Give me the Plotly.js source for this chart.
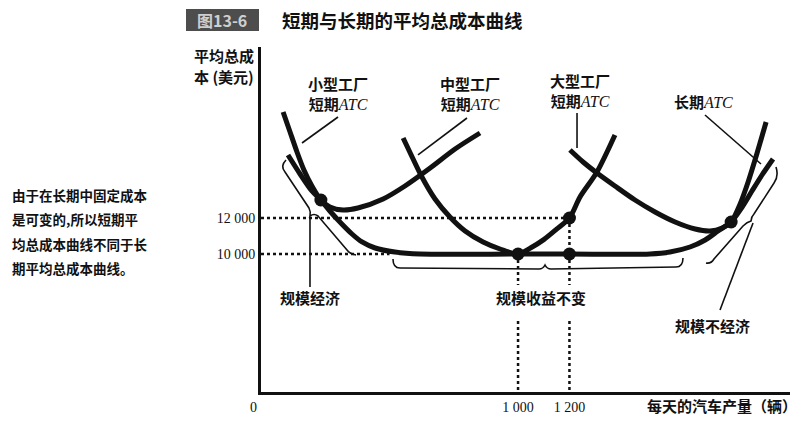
<!DOCTYPE html>
<html><head><meta charset="utf-8">
<script src="https://cdn.plot.ly/plotly-3.0.1.min.js"></script>
<style>html,body{margin:0;padding:0;background:#fff}</style>
</head><body>
<div id="chart" style="width:805px;height:429px"></div>
<script>
// ---- data (output in cars/day, average total cost in $) ----
const smallX  = [86,113,140,167,198,233,268,319,377,475,560,658,755,852];
const smallY  = [17889,16778,15667,14667,13778,13000,12611,12444,12556,13056,13778,14778,15833,16722];
const mediumX = [553,588,626,677,735,794,864,930,1000,1050,1100,1150,1200,1241,1307,1377];
const mediumY = [16444,15389,14278,13056,12056,11278,10667,10278,10000,10350,10800,11380,12000,13167,14556,16611];
const largeX  = [1202,1253,1307,1377,1455,1533,1611,1689,1747,1794,1829,1864,1895,1930,1965];
const largeY  = [15778,15111,14500,13778,13000,12333,11778,11389,11278,11444,11778,12778,14000,15611,17333];
const longX   = [105,152,198,233,268,307,354,393,444,521,619,1000,1200,1514,1591,1669,1728,1778,1829,1872,1910,1949,1992];
const longY   = [15500,14444,13500,13000,12389,11778,11111,10667,10333,10111,10000,10000,10000,10000,10111,10389,10778,11278,11778,12611,13500,14389,15278];
const dotX    = [233,1000,1200,1200,1829];
const dotY    = [13000,10000,12000,10000,11778];
const xTickVals = [1000,1200];
const xTickText = ['1 000','1 200'];
const yTickVals = [10000,12000];
const yTickText = ['10 000','12 000'];

// ---- layout helpers (pixel -> paper) ----
const L = 261, R = 790, T = 47, B = 392;
const PX = p => (p - L) / (R - L);
const PY = p => (B - p) / (B - T);
const P = (x, y) => PX(x).toFixed(4) + ' ' + PY(y).toFixed(4);
const YR = [2333, 21500];
const yAt = p => YR[0] + (B - p) / (B - T) * (YR[1] - YR[0]);

const CJK = 'Noto Sans CJK SC, sans-serif';
const SERIF = 'Liberation Serif, serif';
const ink = '#111';

const curve = (x, y) => ({x, y, type: 'scatter', mode: 'lines', hoverinfo: 'skip',
  line: {color: ink, width: 5, shape: 'spline', smoothing: 0.8}});

const traces = [
  curve(smallX, smallY), curve(mediumX, mediumY), curve(largeX, largeY), curve(longX, longY),
  {x: dotX, y: dotY, type: 'scatter', mode: 'markers', hoverinfo: 'skip',
   marker: {color: ink, size: 13}}
];

const dotLine = {color: ink, width: 2.5, dash: 'dot'};
const shapes = [];
// guide lines from the marked points
shapes.push({type:'line', xref:'x', yref:'y', x0:0, x1:dotX[2], y0:dotY[2], y1:dotY[2], line:dotLine});
shapes.push({type:'line', xref:'x', yref:'y', x0:0, x1:500, y0:dotY[1], y1:dotY[1], line:dotLine});
[1,2].forEach(i => {
  shapes.push({type:'line', xref:'x', yref:'y', x0:dotX[i], x1:dotX[i], y0:dotY[i], y1:yAt(285), line:dotLine});
  shapes.push({type:'line', xref:'x', yref:'y', x0:dotX[i], x1:dotX[i], y0:yAt(321), y1:YR[0], line:dotLine});
});
const thin = {color: ink, width: 1.6};
const path = d => ({type:'path', xref:'paper', yref:'paper', path:d, line:thin});
// braces
shapes.push(path(`M ${P(286,160)} Q ${P(280,166)} ${P(285,172)} L ${P(309,208)} Q ${P(311,212)} ${P(310,216)} Q ${P(314,213)} ${P(318,216)} L ${P(347,250)} Q ${P(350,254)} ${P(356,255)}`));
shapes.push(path(`M ${P(393,259)} Q ${P(393,268)} ${P(400,268)} L ${P(539,269)} Q ${P(543,269)} ${P(545,265)} Q ${P(547,269)} ${P(551,269)} L ${P(676,267)} Q ${P(683,267)} ${P(683,258)}`));
shapes.push(path(`M ${P(706,263)} Q ${P(711,264)} ${P(714,259)} L ${P(743,226)} Q ${P(747,222)} ${P(751,221)} Q ${P(751,217)} ${P(754,214)} L ${P(774,183)} Q ${P(779,176)} ${P(776,167)}`));
// leader lines
shapes.push(path(`M ${P(310,217)} L ${P(310,287)}`));
shapes.push(path(`M ${P(753,223)} L ${P(720,310)}`));
shapes.push(path(`M ${P(338,117)} L ${P(302,143)}`));
shapes.push(path(`M ${P(467,118)} L ${P(418,155)}`));
shapes.push(path(`M ${P(577,113)} L ${P(577,148)}`));
shapes.push(path(`M ${P(705,115)} L ${P(761,164)}`));
// figure number box
shapes.push({type:'rect', xref:'paper', yref:'paper', x0:PX(186), x1:PX(259), y0:PY(31), y1:PY(9),
  fillcolor:'#4d4d4d', line:{width:0}});

const ann = (text, x, y, opt = {}) => Object.assign({
  text, x: PX(x), y: PY(y), xref:'paper', yref:'paper', showarrow:false,
  xanchor:'center', yanchor:'middle', align:'center',
  font:{family:CJK, size:15, color:ink}
}, opt);
const atc = '<span style="font-family:Liberation Serif;font-size:16px">ATC</span>';
const annotations = [
  ann('<b>图13-6</b>', 222, 20, {font:{family:CJK, size:16, color:'#cfcfcf'}}),
  ann('<b>短期与长期的平均总成本曲线</b>', 280, 20, {xanchor:'left', font:{family:CJK, size:18.5, color:ink}}),
  ann('<b>平均总成</b>', 192, 56, {xanchor:'left'}),
  ann('<b>本 (美元)</b>', 192, 76, {xanchor:'left'}),
  ann('<b>小型工厂</b><br><b>短期</b><i>' + atc + '</i>', 338, 93),
  ann('<b>中型工厂</b><br><b>短期</b><i>' + atc + '</i>', 470, 93),
  ann('<b>大型工厂</b><br><b>短期</b><i>' + atc + '</i>', 580, 90),
  ann('<b>长期</b><i>' + atc + '</i>', 703, 101),
  ann('<b>规模经济</b>', 310, 297),
  ann('<b>规模收益不变</b>', 541, 297),
  ann('<b>规模不经济</b>', 712, 325),
  ann('<b>每天的汽车产量（辆）</b>', 722, 405),
  ann('0', 253, 407, {font:{family:SERIF, size:14, color:ink}}),
  ann('<b>由于在长期中固定成本</b>', 10, 195, {xanchor:'left', font:{family:CJK, size:13.5, color:ink}}),
  ann('<b>是可变的,所以短期平</b>', 10, 219, {xanchor:'left', font:{family:CJK, size:13.5, color:ink}}),
  ann('<b>均总成本曲线不同于长</b>', 10, 244, {xanchor:'left', font:{family:CJK, size:13.5, color:ink}}),
  ann('<b>期平均总成本曲线。</b>', 10, 268, {xanchor:'left', font:{family:CJK, size:13.5, color:ink}})
];

const layout = {
  width: 805, height: 429,
  margin: {l: L, r: 805 - R, t: T, b: 429 - B, pad: 0},
  paper_bgcolor: '#fff', plot_bgcolor: '#fff',
  showlegend: false,
  font: {family: CJK, color: ink},
  xaxis: {range: [0, 2058], showgrid: false, zeroline: false, showline: true,
    linecolor: ink, linewidth: 3, ticks: '', tickvals: xTickVals, ticktext: xTickText,
    tickfont: {family: SERIF, size: 14, color: ink}, fixedrange: true},
  yaxis: {range: YR, showgrid: false, zeroline: false, showline: true,
    linecolor: ink, linewidth: 3, ticks: '', tickvals: yTickVals, ticktext: yTickText,
    tickfont: {family: SERIF, size: 14, color: ink}, fixedrange: true},
  shapes, annotations
};
Plotly.newPlot('chart', traces, layout, {displayModeBar: false, staticPlot: true});
</script>
</body></html>
